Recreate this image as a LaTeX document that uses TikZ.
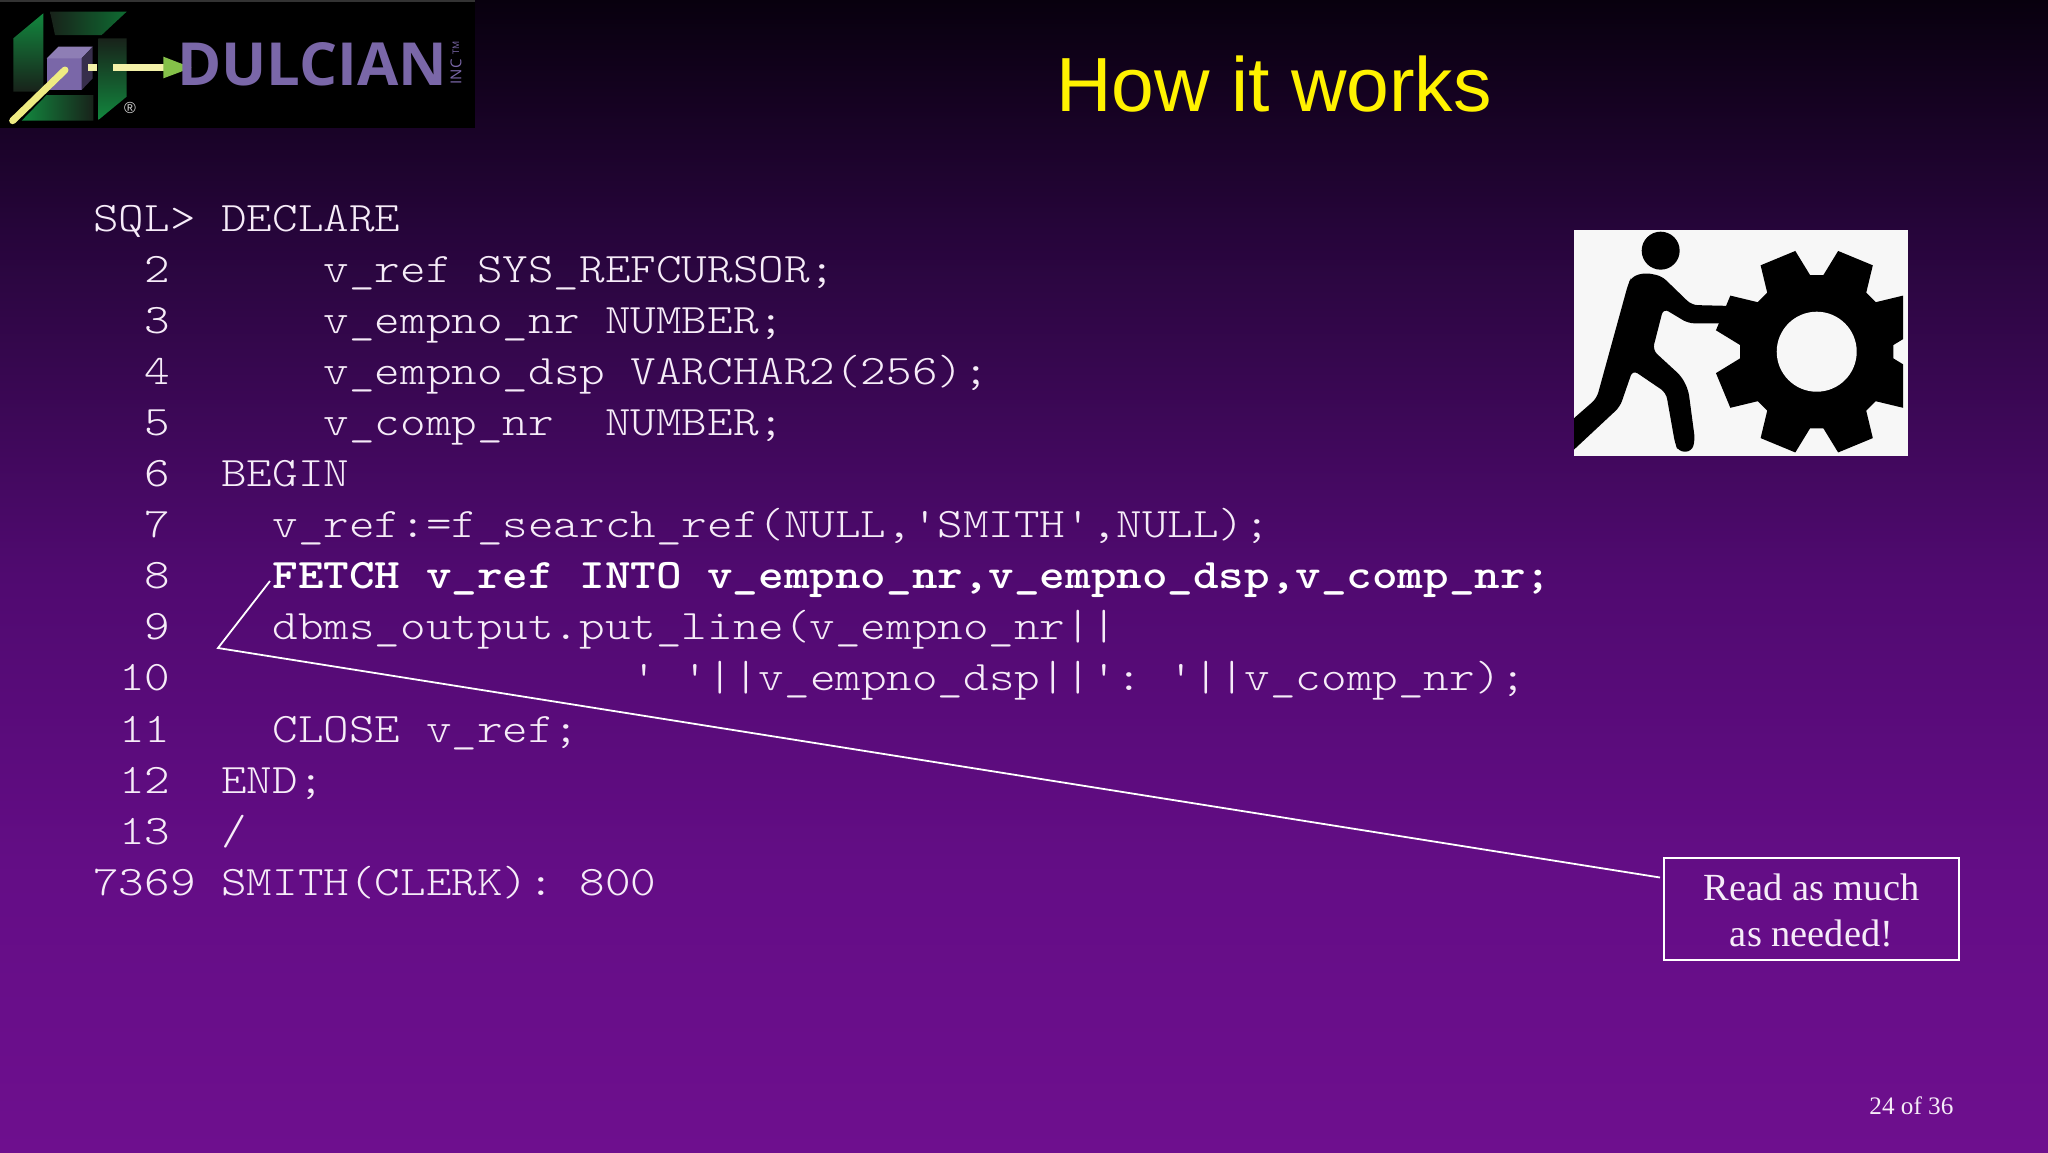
\documentclass[tikz,border=0pt]{standalone}
\usepackage{fontspec}
\setmainfont{Liberation Serif}
\newfontfamily\titlefont{Liberation Sans}
\newfontfamily\logofont{Open Sans}
\newfontfamily\codefont[FakeStretch=1.16]{Latin Modern Mono Light}
\definecolor{bgtop}{RGB}{8,0,14}
\definecolor{bgupper}{RGB}{38,5,58}
\definecolor{bgmid}{RGB}{80,10,112}
\definecolor{bglower}{RGB}{100,13,134}
\definecolor{bgbottom}{RGB}{110,15,142}
\definecolor{codewhite}{RGB}{246,236,248}
\definecolor{logopurple}{RGB}{122,103,168}
\definecolor{logogreen}{RGB}{18,135,62}
\definecolor{logodark}{RGB}{24,34,26}
\definecolor{logoyellow}{RGB}{238,235,130}
\pgfdeclareverticalshading{slidebg}{100bp}{color(0bp)=(bgbottom); color(25bp)=(bgbottom); color(37bp)=(bglower);
    color(50bp)=(bgmid); color(65bp)=(bgupper); color(75bp)=(bgtop); color(100bp)=(bgtop)}
\tikzset{
    codeline/.style={anchor=base west,inner sep=0pt,text=codewhite,font=\codefont\frenchspacing\fontsize{21}{21}\selectfont},
    boldline/.style={codeline,font=\codefont\frenchspacing\bfseries\fontsize{21}{21}\selectfont,text=white},
    callout/.style={draw=white,line width=1pt,text=codewhite,align=center,inner sep=0pt,
        minimum width=147.5pt,minimum height=51pt,font=\fontsize{19.2}{23}\selectfont},
    logopanel/.style={shading angle=0,draw=none}
}
\begin{document}
\begin{tikzpicture}[x=0.5pt,y=-0.5pt]
    \useasboundingbox (0,0) rectangle (2048,1152);

    % Draw the slide background
    \shade[shading=slidebg] (0,0) rectangle (2048,1152);

    % Draw the logo
    \fill[black] (0,0) rectangle (475,128);
    \fill[black!80!white] (0,0) rectangle (475,2);
    \begin{scope}[scale=1/3]
        \shade[logopanel,top color=logogreen,bottom color=logodark] (40,115) -- (130,40) -- (130,275) -- (40,275) -- cycle;
        \shade[logopanel,left color=logodark,right color=logogreen!80!black] (150,35) -- (380,35) -- (305,105) -- (165,105) -- cycle;
        \shade[logopanel,top color=logodark,bottom color=logogreen] (295,115) -- (380,115) -- (380,290) -- (295,360) -- cycle;
        \shade[logopanel,left color=logogreen,right color=logodark] (65,362) -- (140,285) -- (280,285) -- (280,362) -- cycle;
        \fill[logopurple] (140,175) rectangle (245,270);
        \fill[logopurple!85!white] (140,175) -- (175,140) -- (278,140) -- (245,175) -- cycle;
        \fill[logopurple!45!black] (245,175) -- (278,140) -- (278,235) -- (245,270) -- cycle;
        \draw[logoyellow,line width=3.5pt,line cap=round] (38,362) -- (195,210);
        \draw[logoyellow!70!white,line width=3.5pt] (265,203) -- (292,203);
        \draw[logoyellow!70!white,line width=3.5pt] (340,203) -- (495,203);
        \fill[logoyellow!70!green!80!black] (490,170) -- (575,203) -- (490,235) -- cycle;
    \end{scope}
    \node[anchor=north west,inner sep=0pt,text=logopurple] (dulcian) at (177,42)
        {\resizebox{135pt}{21.5pt}{\logofont\bfseries DULCIAN}};
    \node[rotate=90,inner sep=0pt,text=logopurple,font=\logofont\fontsize{7.5}{8}\selectfont] (inc) at (456,72) {INC};
    \node[rotate=90,inner sep=0pt,text=logopurple,font=\logofont\fontsize{4.5}{5}\selectfont] (trademark) at (456,48) {TM};
    \node[inner sep=0pt,text=black!15,font=\titlefont\fontsize{8}{8}\selectfont] (registered) at (130,108) {®};

    % Draw the title
    \node[anchor=base west,inner sep=0pt,text=yellow,font=\titlefont\fontsize{38.4}{38}\selectfont] (title) at (1056,111) {How it works};

    % Draw the code
    \foreach \lbl/\lc/\cc/\txt [count=\ln from 0] in {
        SQL>/0/5/DECLARE,
        2/2/9/{v\_ref SYS\_REFCURSOR;},
        3/2/9/{v\_empno\_nr NUMBER;},
        4/2/9/{v\_empno\_dsp VARCHAR2(256);},
        5/2/9/{v\_comp\_nr\ \ NUMBER;},
        6/2/5/BEGIN,
        7/2/7/{v\_ref:=f\_search\_ref(NULL,'SMITH',NULL);},
        8/2/7/{},
        9/2/7/{dbms\_output.put\_line(v\_empno\_nr||},
        10/1/21/{' '||v\_empno\_dsp||': '||v\_comp\_nr);},
        11/1/7/{CLOSE v\_ref;},
        12/1/5/END;,
        13/1/5/{/},
        7369/0/5/{SMITH(CLERK): 800}} {
        \node[codeline] (num\ln) at ({93+25.6*\lc},{231+51.1*\ln}) {\lbl};
        \node[codeline] (code\ln) at ({93+25.6*\cc},{231+51.1*\ln}) {\txt};
    }
    \node[boldline] (fetch) at ({93+25.6*7},{231+51.1*7}) {FETCH v\_ref INTO v\_empno\_nr,v\_empno\_dsp,v\_comp\_nr;};

    % Draw the picture of the man and the gear
    \fill[black!3] (1574,230) rectangle (1908,456);
    \begin{scope}
        \clip (1574,230) rectangle (1903,456);
        \begin{scope}[shift={(1816.7,351.7)}]
            \fill[black] (5:77) \foreach \a in {22.5,67.5,...,337.5} {
                -- (\a-17.5:77) -- (\a-10.5:103) -- (\a+10.5:103) -- (\a+17.5:77)} -- cycle;
            \fill[black!3] (0,0) circle (40);
        \end{scope}
        \begin{scope}[shift={(1560,220)},scale=1/3]
            \fill[black] (302,92) circle (57);
            \fill[black,rounded corners=3pt] (205,190) -- (215,170) -- (255,158) -- (305,168) -- (395,255) -- (520,258)
                -- (520,310) -- (385,310) -- (310,265) -- (278,390) -- (365,470) -- (385,510) -- (405,660)
                -- (395,695) -- (355,695) -- (345,670) -- (318,518) -- (218,450) -- (180,560) -- (30,700)
                -- (30,605) -- (110,535) -- cycle;
        \end{scope}
    \end{scope}

    % Draw the callout
    \node[callout] (readbox) at (1811.5,908.5) {\rule{0pt}{15pt}Read as much\\as needed!};
    \coordinate (calloutstart) at ([shift={(-3,21)}]readbox.north west);
    \coordinate (elbow) at (218,648);
    \coordinate (fetchtip) at (270,581);
    \draw[white,line width=0.9pt] (calloutstart) -- (elbow) -- (fetchtip);

    % Draw the page number
    \node[anchor=base west,inner sep=0pt,text=codewhite,font=\fontsize{12.6}{13}\selectfont] (pagenum) at (1869,1114) {24 of 36};
\end{tikzpicture}
\end{document}
